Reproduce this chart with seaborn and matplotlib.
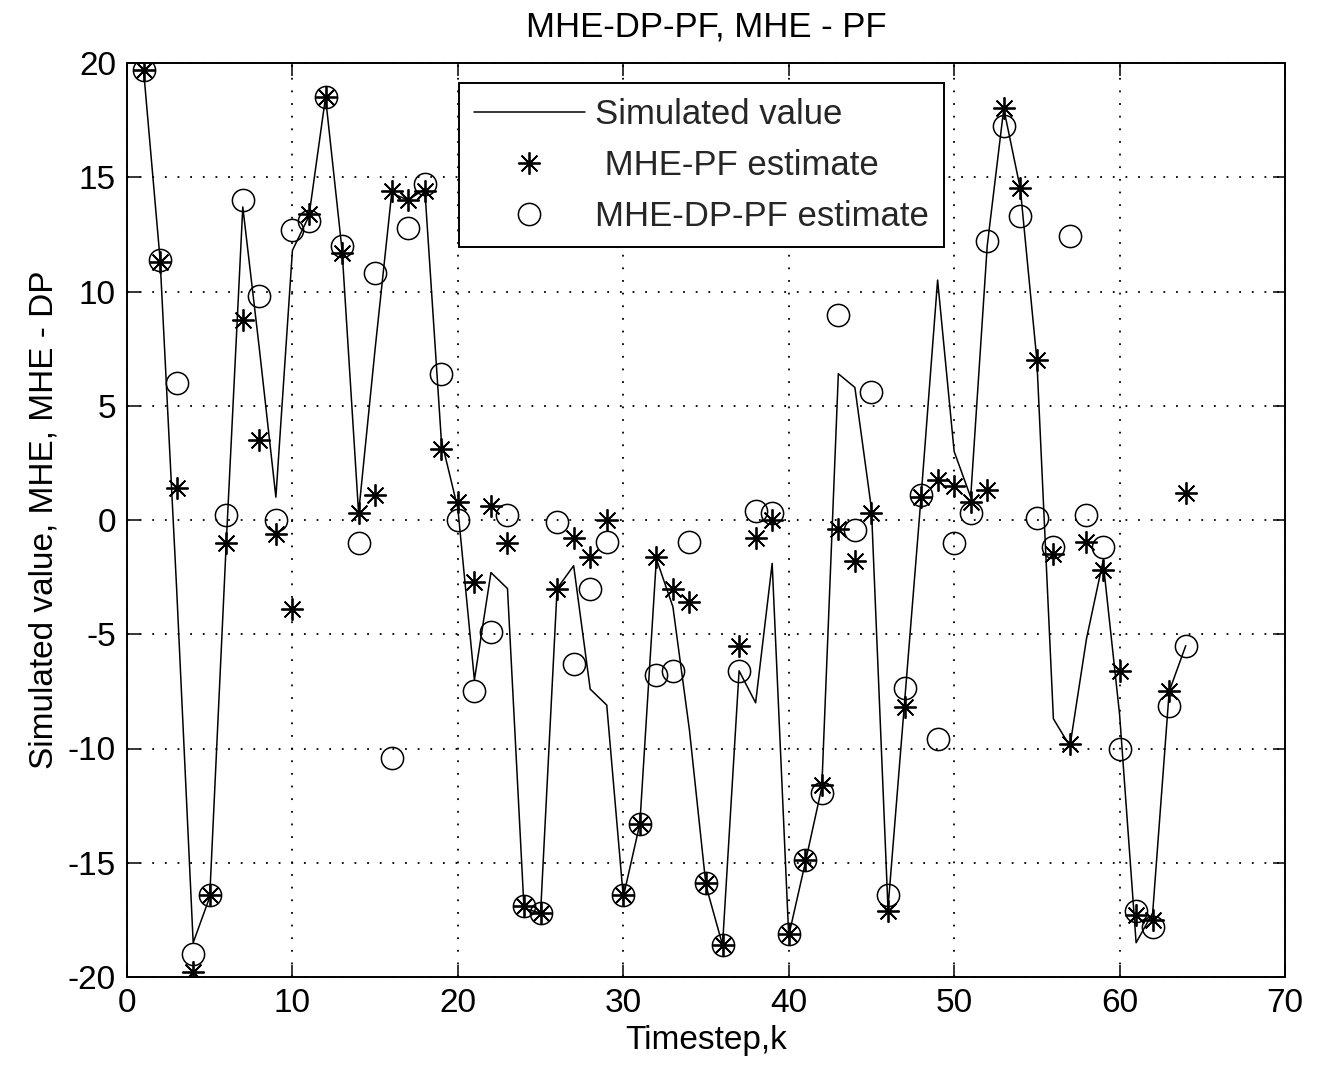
import numpy as np
import pandas as pd
import matplotlib
matplotlib.use("Agg")
import matplotlib.pyplot as plt
import seaborn as sns
from matplotlib.lines import Line2D

# ---- data ----
timestep = list(range(1, 65))

simulated = [19.7, 11.4, -3.0, -18.5, -16.5, -1.0, 13.7, 7.5, 1.0, 11.8,
             13.3, 18.5, 11.8, 0.3, 7.5, 14.3, 14.0, 14.5, 3.5, 0.5,
             -7.0, -2.3, -3.0, -17.0, -17.2, -3.0, -2.0, -7.4, -8.1, -16.5,
             -13.3, -1.7, -3.8, -9.2, -16.0, -18.6, -6.6, -8.0, -1.9, -18.2,
             -15.0, -11.7, 6.4, 5.8, 0.5, -17.0, -8.0, 1.0, 10.5, 3.0,
             1.0, 12.0, 18.0, 14.5, 7.0, -8.7, -9.9, -5.2, -1.8, -8.5,
             -18.5, -17.2, -7.5, -5.5]

mhe_pf = [19.7, 11.3, 1.4, -19.8, -16.4, -1.0, 8.75, 3.5, -0.6, -3.9,
          13.4, 18.5, 11.7, 0.3, 1.1, 14.4, 14.0, 14.4, 3.1, 0.8,
          -2.7, 0.6, -1.0, -16.9, -17.2, -3.0, -0.8, -1.6, 0.0, -16.4,
          -13.3, -1.6, -3.0, -3.6, -15.9, -18.6, -5.5, -0.8, 0.0, -18.1,
          -14.9, -11.6, -0.4, -1.8, 0.3, -17.1, -8.2, 1.0, 1.75, 1.5,
          0.8, 1.3, 18.05, 14.55, 7.0, -1.5, -9.8, -0.95, -2.2, -6.6,
          -17.3, -17.5, -7.5, 1.2]

mhe_dp_pf = [19.7, 11.4, 6.0, -19.0, -16.4, 0.2, 14.0, 9.8, 0.0, 12.7,
             13.1, 18.5, 12.0, -1.0, 10.8, -10.4, 12.8, 14.7, 6.4, 0.0,
             -7.5, -4.9, 0.2, -16.9, -17.2, -0.1, -6.3, -3.0, -0.95, -16.4,
             -13.3, -6.8, -6.6, -0.95, -15.9, -18.6, -6.6, 0.4, 0.3, -18.1,
             -14.9, -11.95, 8.95, -0.45, 5.6, -16.4, -7.35, 1.1, -9.6, -1.0,
             0.3, 12.2, 17.25, 13.3, 0.1, -1.2, 12.45, 0.2, -1.2, -10.0,
             -17.1, -17.8, -8.15, -5.5]

x_ticks = [0, 10, 20, 30, 40, 50, 60, 70]
y_ticks = [-20, -15, -10, -5, 0, 5, 10, 15, 20]
legend_labels = ["Simulated value", " MHE-PF estimate", "MHE-DP-PF estimate"]
title_text = "MHE-DP-PF, MHE - PF"
x_label = "Timestep,k"
y_label = "Simulated value, MHE, MHE - DP"

# ---- style ----
sns.set_style("ticks")
plt.rcParams["font.family"] = ["Liberation Sans", "DejaVu Sans"]
plt.rcParams["axes.unicode_minus"] = False

fig = plt.figure(figsize=(13.18, 10.74), dpi=100)
ax = fig.add_axes([127 / 1318, 1 - 977 / 1074, (1285 - 127) / 1318, (977 - 63) / 1074])

df = pd.DataFrame({"k": timestep, "sim": simulated, "pf": mhe_pf, "dp": mhe_dp_pf})

star = (8, 2, 0)
sns.lineplot(data=df, x="k", y="sim", ax=ax, color="k", linewidth=1.1, legend=False)
sns.lineplot(data=df, x="k", y="pf", ax=ax, color="k", linestyle="", marker=star,
             markersize=16, markeredgewidth=1.3, markeredgecolor="k", legend=False)
sns.lineplot(data=df, x="k", y="dp", ax=ax, color="k", linestyle="", marker="o",
             markersize=16, markerfacecolor="none", markeredgewidth=1.1,
             markeredgecolor="k", legend=False)

ax.set_xlim(0, 70)
ax.set_ylim(-20, 20)
ax.set_xticks(x_ticks)
ax.set_yticks(y_ticks)
ax.grid(True, color="k", linestyle=(0, (1, 6)), linewidth=1.3)
ax.set_axisbelow(True)

ax.tick_params(direction="in", top=True, right=True, length=9, width=1.1,
               labelsize=24, pad=8, color="k", labelcolor="k")
for s in ax.spines.values():
    s.set_visible(True)
    s.set_color("k")
    s.set_linewidth(1.4)

ax.set_title(title_text, fontsize=25, pad=19, color="k")
ax.set_xlabel(x_label, fontsize=24, labelpad=4, color="k")
ax.set_ylabel(y_label, fontsize=24, labelpad=6, color="k")

handles = [
    Line2D([], [], color="k", linewidth=1.1),
    Line2D([], [], color="k", linestyle="", marker=star, markersize=16, markeredgewidth=1.3),
    Line2D([], [], color="k", linestyle="", marker="o", markersize=16,
           markerfacecolor="none", markeredgewidth=1.1),
]
leg = ax.legend(handles, legend_labels, loc="upper left", bbox_to_anchor=(0.2867, 0.978),
                borderaxespad=0, fancybox=False, edgecolor="k", framealpha=1,
                fontsize=25, handlelength=3.2, handletextpad=0.3, borderpad=0.42,
                labelspacing=0.52)
leg.get_frame().set_linewidth(1.4)

fig.savefig("out.png", dpi=100, facecolor="white")
